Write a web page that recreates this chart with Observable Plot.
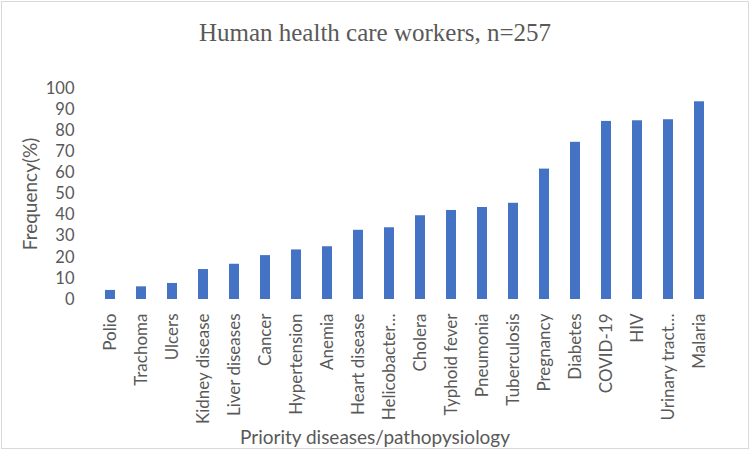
<!DOCTYPE html>
<html>
<head>
<meta charset="utf-8">
<script src="https://cdn.jsdelivr.net/npm/d3@7"></script>
<script src="https://cdn.jsdelivr.net/npm/@observablehq/plot@0.6"></script>
<style>
  html, body { margin: 0; padding: 0; background: #fff; }
  #wrap { position: relative; width: 751px; height: 451px; overflow: hidden; }
  #border { position: absolute; left: 1px; top: 1px; width: 746px; height: 446px; border: 1px solid #d9d9d9; pointer-events: none; }
</style>
</head>
<body>
<div id="wrap"><div id="border"></div></div>
<script>
const categories = ["Polio", "Trachoma", "Ulcers", "Kidney disease", "Liver diseases", "Cancer", "Hypertension", "Anemia", "Heart disease", "Helicobacter…", "Cholera", "Typhoid fever", "Pneumonia", "Tuberculosis", "Pregnancy", "Diabetes", "COVID-19", "HIV", "Urinary tract…", "Malaria"];
const values = [4.3, 6.0, 7.6, 14.2, 16.7, 20.8, 23.5, 25.0, 32.8, 34.0, 39.7, 42.2, 43.6, 45.6, 61.8, 74.5, 84.4, 84.7, 85.2, 93.7];
const yTicks = [0, 10, 20, 30, 40, 50, 60, 70, 80, 90, 100];
const title = "Human health care workers, n=257";
const yTitle = "Frequency(%)";
const xTitle = "Priority diseases/pathopysiology";

const data = categories.map((c, i) => ({category: c, value: values[i]}));
const textColor = "#595959";
const sans = "Lato, 'Open Sans', sans-serif";

const chart = Plot.plot({
  width: 751,
  height: 451,
  marginTop: 88,
  marginBottom: 152,
  marginLeft: 92,
  marginRight: 34,
  style: {fontFamily: sans, fontSize: "17px", color: textColor, background: "transparent"},
  x: {domain: categories, paddingInner: 0.68, paddingOuter: 0.34, align: 0.5},
  y: {domain: [0, 100]},
  marks: [
    Plot.barY(data, {x: "category", y: "value", fill: "#4472C4", inset: 0}),
    Plot.axisX({tickRotate: -90, tickSize: 0, tickPadding: 14, label: null, fill: textColor, fontSize: 17}),
    Plot.axisY({ticks: yTicks, tickSize: 0, tickPadding: 18, label: null, fill: textColor, fontSize: 16.5}),
    Plot.text([title], {frameAnchor: "top", lineAnchor: "middle", dy: -56, dx: -30, fontFamily: "'Liberation Serif', 'Times New Roman', serif", fontSize: 25, fill: textColor}),
    Plot.text([yTitle], {frameAnchor: "left", textAnchor: "middle", dx: -62, rotate: -90, fontSize: 19, fill: textColor}),
    Plot.text([xTitle], {frameAnchor: "bottom", lineAnchor: "middle", dy: 138, dx: -30, fontSize: 19, fill: textColor})
  ]
});
document.getElementById("wrap").prepend(chart);
</script>
</body>
</html>
